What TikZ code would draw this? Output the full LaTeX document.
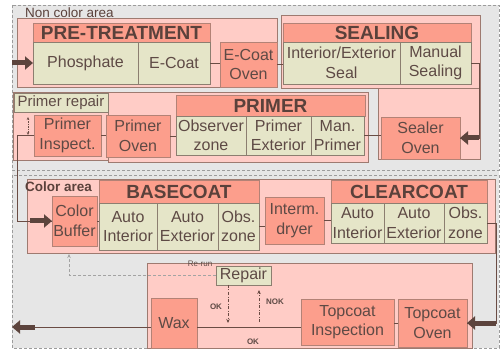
\documentclass[tikz,border=0pt]{standalone}
\usepackage{fontspec}
\setmainfont{Liberation Sans}
\usetikzlibrary{arrows.meta,positioning}
\definecolor{page}{HTML}{E6E6E6}
\definecolor{zonec}{HTML}{9C9C9C}
\definecolor{grpfill}{HTML}{FFCCC6}
\definecolor{grpline}{HTML}{9E7A70}
\definecolor{headfill}{HTML}{FC9E8C}
\definecolor{headline}{HTML}{B38276}
\definecolor{stnfill}{HTML}{E5E5C8}
\definecolor{stnline}{HTML}{8C7E70}
\definecolor{ink}{HTML}{5E4A45}
\definecolor{headink}{HTML}{5A413B}
\definecolor{linec}{HTML}{6A4C44}
\definecolor{fatc}{HTML}{5C443D}
\definecolor{dashc}{HTML}{A3A3A3}
\newcommand\bxfont{\fontsize{16}{19.5}\selectfont}
\newcommand\hdfont{\fontsize{19}{21}\selectfont\bfseries}
\newcommand\zlfont{\fontsize{13.5}{15}\selectfont}
\newcommand\tyfont{\fontsize{8}{9}\selectfont\bfseries}
\tikzset{
  zone/.style={draw=zonec,dash pattern=on 3pt off 2pt,line width=0.8pt},
  zlabel/.style={anchor=west,inner sep=0pt,font=\zlfont,text=headink},
  grp/.style={draw=grpline,fill=grpfill,line width=0.8pt,anchor=north west,
    inner sep=0pt,outer sep=0pt},
  head/.style={draw=headline,fill=headfill,font=\hdfont,text=headink,inner sep=0pt,
    outer sep=0pt,anchor=north west,line width=0.7pt},
  stn/.style={draw=stnline,fill=stnfill,font=\bxfont,text=ink,align=center,inner sep=0pt,
    outer sep=0pt,anchor=north west,line width=0.7pt},
  oven/.style={stn,fill=headfill,draw=headline},
  link/.style={draw=linec,line width=0.9pt},
  fat/.style={draw=fatc,line width=5pt,-{Triangle[length=8pt,width=13pt]}},
  rerun/.style={draw=dashc,line width=0.8pt,dash pattern=on 3pt off 2pt,
    -{Stealth[length=4pt,width=3.5pt]}},
  okarr/.style={draw=linec,line width=0.7pt,dash pattern=on 3pt off 1.5pt on 1pt off 1.5pt,
    -{Stealth[length=4pt,width=3.5pt]}},
  dbl/.style={draw=linec,line width=0.6pt,dash pattern=on 1.5pt off 1pt,
    {Stealth[length=3pt,width=2.5pt]}-{Stealth[length=3pt,width=2.5pt]}},
  tiny/.style={font=\tyfont,text=ink,inner sep=0pt}
}
\begin{document}
\begin{tikzpicture}[x=1pt,y=-1pt]
  \useasboundingbox (0,0) rectangle (500,352);
  % areas
  \fill[page] (12,5) rectangle (499,348);
  \draw[zone] (12,5) rectangle (499,170);
  \draw[zone] (12,175) rectangle (499,348);
  \node[zlabel] (ncl) at (25,12.5) {Non color area};

  % group backgrounds, non color area
  \node[grp,minimum width=102pt,minimum height=71pt] (gsov) at (378,88) {};
  \node[grp,minimum width=199pt,minimum height=73pt] (gseal) at (281,15) {};
  \node[grp,minimum width=260pt,minimum height=69pt] (gpre) at (17,18) {};
  \node[grp,minimum width=95pt,minimum height=68pt] (grep) at (13,92) {};
  \node[grp,minimum width=260pt,minimum height=70pt] (gprim) at (108,92) {};

  % pre-treatment
  \node[head,minimum width=177pt,minimum height=19pt] (hpre) at (33,23) {PRE-TREATMENT};
  \node[stn,minimum width=105pt,minimum height=42pt] (phos) at (33,42) {Phosphate};
  \node[stn,minimum width=72pt,minimum height=42pt,right=0pt of phos] (ecoat) {E-Coat};
  \node[oven,minimum width=57pt,minimum height=45pt] (eoven) at (220,42) {E-Coat\\Oven};

  % sealing
  \node[head,minimum width=188pt,minimum height=19pt] (hseal) at (283,23) {SEALING};
  \node[stn,minimum width=117pt,minimum height=42pt] (ieseal) at (283,42) {Interior/Exterior\\Seal};
  \node[stn,minimum width=71pt,minimum height=42pt,right=0pt of ieseal] (mansl) {Manual\\Sealing};
  \node[oven,minimum width=79pt,minimum height=42pt] (soven) at (381,117) {Sealer\\Oven};

  % primer
  \node[head,minimum width=189pt,minimum height=21pt] (hprim) at (176,95) {PRIMER};
  \node[stn,minimum width=70pt,minimum height=39pt] (obsz) at (176,116) {Observer\\zone};
  \node[stn,minimum width=65pt,minimum height=39pt,right=0pt of obsz] (prext) {Primer\\Exterior};
  \node[stn,minimum width=53pt,minimum height=39pt,right=0pt of prext] (manpr) {Man.\\Primer};
  \node[oven,minimum width=64pt,minimum height=42pt] (proven) at (106,115) {Primer\\Oven};
  \node[oven,minimum width=67pt,minimum height=41pt] (prinsp) at (34,115) {Primer\\Inspect.};
  \node[stn,minimum width=94pt,minimum height=19pt,font=\fontsize{15}{17}\selectfont] (prrep) at (14,93) {Primer repair};
  \coordinate (da) at (28,117);
  \coordinate (db) at (28,135);
  \draw[dbl] (da) -- (db);

  % color area
  \node[grp,minimum width=468pt,minimum height=74pt] (gcol) at (27,179) {};
  \node[zlabel,font=\zlfont\bfseries] (cla) at (25,187) {Color area};
  \node[oven,minimum width=45pt,minimum height=50pt] (cbuf) at (52,196) {Color\\Buffer};
  \node[head,minimum width=160pt,minimum height=23pt] (hbase) at (99,180) {BASECOAT};
  \node[stn,minimum width=58pt,minimum height=47pt] (bai) at (99,203) {Auto\\Interior};
  \node[stn,minimum width=61pt,minimum height=47pt,right=0pt of bai] (bae) {Auto\\Exterior};
  \node[stn,minimum width=41pt,minimum height=47pt,right=0pt of bae] (bobs) {Obs.\\zone};
  \node[oven,minimum width=59pt,minimum height=47pt] (dryer) at (265,197) {Interm.\\dryer};
  \node[head,minimum width=156pt,minimum height=23pt] (hclear) at (331,180) {CLEARCOAT};
  \node[stn,minimum width=53pt,minimum height=40pt] (cai) at (331,203) {Auto\\Interior};
  \node[stn,minimum width=60pt,minimum height=40pt,right=0pt of cai] (cae) {Auto\\Exterior};
  \node[stn,minimum width=43pt,minimum height=40pt,right=0pt of cae] (cobs) {Obs.\\zone};

  % topcoat
  \node[grp,minimum width=325pt,minimum height=85pt] (gtop) at (147,263) {};
  \node[oven,minimum width=46pt,minimum height=50pt] (wax) at (151,298) {Wax};
  \node[stn,minimum width=55pt,minimum height=19pt] (repair) at (216,266) {Repair};
  \node[oven,minimum width=93pt,minimum height=46pt] (tcinsp) at (301,299) {Topcoat\\Inspection};
  \node[oven,minimum width=69pt,minimum height=48pt] (tcoven) at (398,299) {Topcoat\\Oven};

  % flow
  \coordinate (in) at (12,0);
  \coordinate (rs) at (479,0);
  \coordinate (ls) at (17,0);
  \coordinate (rb) at (496,0);
  \coordinate (ml) at (0,327);
  \coordinate (out) at (12,327);
  \coordinate (outb) at (35,327);
  \coordinate (rr) at (69,254);
  \coordinate (okb) at (228,323);
  \coordinate (nokb) at (259,322);
  \draw[fat] (phos.west -| in) -- (phos.west);
  \draw[link] (ecoat.east) -- (ecoat.east -| eoven.west);
  \draw[link] (eoven.east) -- (eoven.east -| ieseal.west);
  \draw[link] (mansl.east) -- (mansl.east -| rs) -- (rs |- soven.east) -- (soven.east);
  \draw[fat] (rs |- soven.east) -- (soven.east);
  \draw[link] (manpr.east) -- (manpr.east -| soven.west);
  \draw[link] (proven.east) -- (proven.east -| obsz.west);
  \draw[link] (prinsp.east) -- (prinsp.east -| proven.west);
  \draw[link] (prinsp.west) -- (prinsp.west -| ls) -- (ls |- cbuf.west) -- (cbuf.west);
  \draw[fat] ([xshift=-22pt]cbuf.west) -- (cbuf.west);
  \draw[link] (cbuf.east) -- (cbuf.east -| bai.west);
  \draw[link] (bobs.east) -- (bobs.east -| dryer.west);
  \draw[link] (dryer.east) -- (dryer.east -| cai.west);
  \draw[link] (cobs.east) -- (cobs.east -| rb) -- (rb |- tcoven.east) -- (tcoven.east);
  \draw[fat] (rb |- tcoven.east) -- (tcoven.east);
  \draw[link] (tcoven.west) -- (tcoven.west -| tcinsp.east);
  \draw[link] (tcinsp.west |- ml) -- (wax.east |- ml);
  \draw[link] (wax.west |- ml) -- (outb);
  \draw[fat] (outb) -- (out);

  % repair loop
  \draw[rerun] (repair.west) -| (rr);
  \node[tiny,font=\fontsize{8}{9}\selectfont] (rrl) at (200,264) {Re-run};
  \draw[okarr] (repair.south -| okb) -- (okb);
  \draw[okarr,shorten >=5pt] (nokb) -- (repair.south -| nokb);
  \node[tiny] (okl) at (216,307) {OK};
  \node[tiny] (nokl) at (275,302) {NOK};
  \node[tiny] (ok2l) at (253,342) {OK};
\end{tikzpicture}
\end{document}
